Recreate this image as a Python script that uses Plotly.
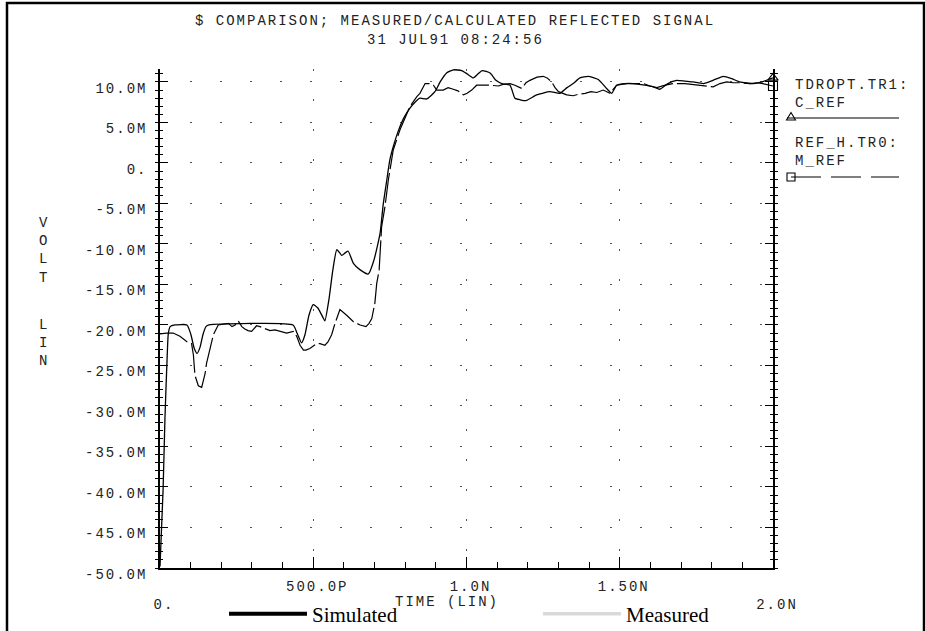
import plotly.graph_objects as go

# Reflected signal vs. time: time in ns, amplitude in mV
sim_t = [0.000, 0.010, 0.016, 0.023, 0.027, 0.033, 0.049, 0.088, 0.101, 0.111,
         0.121, 0.131, 0.140, 0.150, 0.160, 0.434, 0.447, 0.462, 0.473, 0.486,
         0.500, 0.515, 0.532, 0.538, 0.551, 0.564, 0.577, 0.593, 0.604, 0.614,
         0.631, 0.653, 0.680, 0.698, 0.718, 0.728, 0.740, 0.750, 0.761, 0.777,
         0.796, 0.816, 0.832, 0.848, 0.870, 0.897, 0.914, 0.935, 0.957, 0.984,
         1.002, 1.022, 1.038, 1.051, 1.077, 1.096, 1.115, 1.142, 1.158, 1.175,
         1.194, 1.229, 1.272, 1.305, 1.328, 1.348, 1.370, 1.397, 1.430, 1.457,
         1.474, 1.490, 1.517, 1.544, 1.582, 1.609, 1.631, 1.657, 1.686, 1.713,
         1.740, 1.773, 1.804, 1.838, 1.866, 1.892, 1.936, 1.964, 2.000]
sim_v = [-49.8, -40.4, -31.7, -24.3, -21.1, -20.2, -20.0, -20.0, -21.2, -22.8,
         -23.5, -22.7, -21.2, -20.2, -20.0, -20.0, -21.0, -22.2, -21.2, -18.8,
         -17.5, -17.9, -19.1, -19.5, -16.9, -13.2, -10.7, -11.4, -11.1, -10.9,
         -12.4, -13.2, -13.7, -12.0, -8.7, -5.2, -2.1, 0.4, 2.0, 3.9,
         5.6, 6.8, 7.5, 8.0, 7.9, 8.8, 10.0, 11.1, 11.5, 11.4,
         11.0, 10.5, 11.0, 11.4, 11.1, 10.2, 9.8, 9.6, 8.0, 7.8,
         7.7, 8.4, 8.8, 8.6, 9.3, 9.8, 10.5, 10.7, 10.3, 9.2,
         8.6, 9.6, 9.8, 9.8, 9.6, 9.4, 9.1, 9.8, 10.2, 10.1,
         10.0, 9.8, 10.2, 10.7, 10.4, 10.0, 9.8, 10.0, 10.5]

meas_t = [0.000, 0.022, 0.043, 0.065, 0.089, 0.103, 0.109, 0.114, 0.125, 0.136,
          0.147, 0.152, 0.161, 0.174, 0.190, 0.207, 0.223, 0.235, 0.245, 0.255,
          0.267, 0.277, 0.287, 0.299, 0.315, 0.326, 0.337, 0.359, 0.375, 0.392,
          0.413, 0.435, 0.446, 0.457, 0.468, 0.476, 0.489, 0.511, 0.522, 0.538,
          0.548, 0.560, 0.571, 0.587, 0.597, 0.609, 0.631, 0.653, 0.672, 0.682,
          0.691, 0.701, 0.707, 0.711, 0.715, 0.723, 0.734, 0.745, 0.761, 0.783,
          0.816, 0.838, 0.848, 0.865, 0.878, 0.892, 0.903, 0.924, 0.940, 0.957,
          0.972, 0.990, 1.002, 1.017, 1.033, 1.054, 1.077, 1.104, 1.119, 1.142,
          1.158, 1.180, 1.194, 1.207, 1.230, 1.250, 1.263, 1.278, 1.289, 1.300,
          1.312, 1.327, 1.348, 1.367, 1.387, 1.406, 1.425, 1.446, 1.468, 1.490,
          1.523, 1.550, 1.577, 1.599, 1.621, 1.648, 1.675, 1.713, 1.736, 1.762,
          1.785, 1.805, 1.827, 1.849, 1.870, 1.892, 1.925, 1.948, 1.967, 2.000]
meas_v = [-21.1, -21.0, -21.0, -21.4, -22.1, -22.3, -23.7, -26.2, -27.5, -27.7,
          -26.0, -24.7, -23.3, -21.2, -20.0, -19.9, -19.8, -20.2, -20.0, -19.5,
          -20.2, -20.5, -20.7, -20.8, -20.1, -20.2, -20.4, -20.7, -20.6, -20.8,
          -21.0, -20.8, -21.4, -22.5, -23.1, -23.1, -22.9, -22.3, -22.3, -22.5,
          -22.1, -21.2, -19.8, -18.1, -18.4, -18.8, -19.6, -20.0, -20.2, -19.8,
          -19.2, -17.3, -14.9, -14.0, -13.2, -7.9, -5.4, -2.1, 1.6, 4.1,
          7.0, 8.2, 8.6, 9.8, 9.8, 9.6, 9.0, 9.0, 9.3, 9.1,
          8.9, 8.4, 8.6, 9.0, 9.6, 9.6, 9.6, 9.5, 9.7, 9.8,
          9.6, 9.2, 9.9, 10.2, 10.6, 10.7, 10.5, 10.0, 9.3, 8.8,
          8.6, 8.4, 8.3, 8.5, 8.6, 8.8, 8.7, 9.0, 8.6, 9.6,
          9.8, 9.8, 9.8, 9.5, 9.3, 9.6, 9.8, 9.8, 9.7, 9.6,
          9.5, 9.4, 9.8, 10.0, 9.9, 9.9, 9.8, 9.9, 9.8, 9.5]

y_tick_vals = [10, 5, 0, -5, -10, -15, -20, -25, -30, -35, -40, -45, -50]
y_tick_text = ["10.0M", "5.0M", "0.", "-5.0M", "-10.0M", "-15.0M", "-20.0M",
               "-25.0M", "-30.0M", "-35.0M", "-40.0M", "-45.0M", "-50.0M"]
x_tick_vals = [0, 0.5, 1.0, 1.5, 2.0]
x_tick_text = ["0.", "500.0P", "1.0N", "1.50N", "2.0N"]

W, H = 925, 631
ML, MR, MT, MB = 160, 152, 69, 63
PW, PH = W - ML - MR, H - MT - MB

HP_FONT = "Liberation Mono"
HP_SIZE = 14
INK = "#222222"


def px2x(px):
    return (px - ML) / PW


def px2y(py):
    return (H - MB - py) / PH


def hp(s):
    # plotter-style lettering: monospaced with wide tracking
    return f'<span style="letter-spacing:2px">{s}</span>'


fig = go.Figure()

fig.add_trace(go.Scatter(x=sim_t, y=sim_v, mode="lines", name="C_REF",
                         line=dict(color="black", width=1.3, shape="spline",
                                   smoothing=0.5),
                         showlegend=False, hoverinfo="skip"))
fig.add_trace(go.Scatter(x=meas_t, y=meas_v, mode="lines", name="M_REF",
                         line=dict(color="black", width=1.2, dash="30px,4px"),
                         showlegend=False, hoverinfo="skip"))
# end-of-trace symbols
fig.add_trace(go.Scatter(x=[sim_t[-1]], y=[sim_v[-1]], mode="markers", yaxis="y2",
                         marker=dict(symbol="triangle-up-open", size=9, color="black",
                                     line=dict(width=1.1, color="black")),
                         cliponaxis=False, showlegend=False, hoverinfo="skip"))
fig.add_trace(go.Scatter(x=[meas_t[-1]], y=[meas_v[-1]], mode="markers", yaxis="y2",
                         marker=dict(symbol="square-open", size=9, color="black",
                                     line=dict(width=1.1, color="black")),
                         cliponaxis=False, showlegend=False, hoverinfo="skip"))
# bottom legend entries
fig.add_trace(go.Scatter(x=[None], y=[None], mode="lines", name="Simulated",
                         line=dict(color="black", width=4), legend="legend"))
fig.add_trace(go.Scatter(x=[None], y=[None], mode="lines", name="Measured",
                         line=dict(color="#d9d9d9", width=3.5), legend="legend2"))

hp_tickfont = dict(family=HP_FONT, size=HP_SIZE, color=INK)
legend_common = dict(
    orientation="h", xanchor="left", y=px2y(614), yanchor="middle",
    font=dict(family="Liberation Serif", size=21, color="black"),
    itemwidth=78, bgcolor="rgba(0,0,0,0)", borderwidth=0,
)

fig.update_layout(
    width=W, height=H,
    margin=dict(l=ML, r=MR, t=MT, b=MB, autoexpand=False),
    paper_bgcolor="white", plot_bgcolor="white",
    font=dict(family=HP_FONT, size=HP_SIZE, color=INK),
    xaxis=dict(
        range=[0, 2], tickmode="array", tickvals=x_tick_vals,
        ticktext=[("<br>" + hp(t)) if v in (0, 2.0) else hp(t)
                  for v, t in zip(x_tick_vals, x_tick_text)],
        ticks="inside", ticklen=11, tickwidth=1.3, tickcolor="black",
        showline=True, linecolor="black", linewidth=1.5, mirror=False,
        showgrid=True, gridcolor="#555555", gridwidth=1.4, griddash="2px,28px",
        zeroline=False, tickfont=hp_tickfont, ticklabelstandoff=4,
        ticklabelshift=4,
        minor=dict(dtick=0.1, tick0=0, ticks="inside", ticklen=6,
                   tickwidth=1.2, tickcolor="black", showgrid=False),
    ),
    yaxis=dict(
        range=[-50, 11.6], tickmode="array", tickvals=y_tick_vals,
        ticktext=[hp(t) for t in y_tick_text],
        ticks="outside", ticklen=3, tickwidth=1.3, tickcolor="black",
        showline=True, linecolor="black", linewidth=1.5, mirror="ticks",
        showgrid=True, gridcolor="#555555", gridwidth=1.4, griddash="2px,28px",
        zeroline=False, tickfont=hp_tickfont, ticklabelstandoff=5,
        ticklabelshift=6,
        minor=dict(dtick=1, tick0=0, ticks="outside", ticklen=3,
                   tickwidth=1.2, tickcolor="black", showgrid=False),
    ),
    yaxis2=dict(
        range=[-50, 11.6], overlaying="y", side="left", tickmode="array",
        tickvals=y_tick_vals, showticklabels=False,
        ticks="inside", ticklen=8, tickwidth=1.3, tickcolor="black",
        showline=False, mirror="ticks", showgrid=False, zeroline=False,
        minor=dict(dtick=1, tick0=0, ticks="inside", ticklen=3,
                   tickwidth=1.2, tickcolor="black", showgrid=False),
    ),
    legend=dict(x=px2x(224), **legend_common),
    legend2=dict(x=px2x(538), **legend_common),
    showlegend=True,
)

annotations = [
    dict(text=hp("$ COMPARISON; MEASURED/CALCULATED REFLECTED SIGNAL"),
         x=px2x(455), y=px2y(21)),
    dict(text=hp("31 JUL91 08:24:56"), x=px2x(455), y=px2y(40)),
    dict(text="V<br>O<br>L<br>T", x=px2x(43), y=px2y(250)),
    dict(text="L<br>I<br>N", x=px2x(43), y=px2y(343)),
    dict(text=hp("TIME (LIN)"), x=px2x(447), y=px2y(602)),
    dict(text=hp("TDROPT.TR1:") + "<br>" + hp("C_REF"), x=px2x(793), y=px2y(94),
         xanchor="left", align="left"),
    dict(text=hp("REF_H.TR0:") + "<br>" + hp("M_REF"), x=px2x(793), y=px2y(152),
         xanchor="left", align="left"),
]
for a in annotations:
    a.setdefault("xanchor", "center")
    a.setdefault("yanchor", "middle")
    fig.add_annotation(xref="paper", yref="paper", showarrow=False,
                       font=dict(family=HP_FONT, size=HP_SIZE, color=INK), **a)

shapes = [
    # page frame
    dict(type="rect", x0=px2x(7), x1=px2x(924), y0=px2y(3), y1=px2y(700),
         line=dict(color="black", width=2.5)),
    # line-type keys on the right
    dict(type="line", x0=px2x(787), x1=px2x(899), y0=px2y(118), y1=px2y(118),
         line=dict(color="black", width=1.2)),
    dict(type="path",
         path=f"M {px2x(791)},{px2y(112.5)} L {px2x(786.5)},{px2y(120)} "
              f"L {px2x(795.5)},{px2y(120)} Z",
         line=dict(color="black", width=1.1)),
    dict(type="line", x0=px2x(791), x1=px2x(899), y0=px2y(177), y1=px2y(177),
         line=dict(color="black", width=1.2, dash="30px,10px")),
    dict(type="rect", x0=px2x(787), x1=px2x(795), y0=px2y(173), y1=px2y(181),
         line=dict(color="black", width=1.1)),
]
for s in shapes:
    fig.add_shape(xref="paper", yref="paper", **s)

fig.write_html("out.html")
